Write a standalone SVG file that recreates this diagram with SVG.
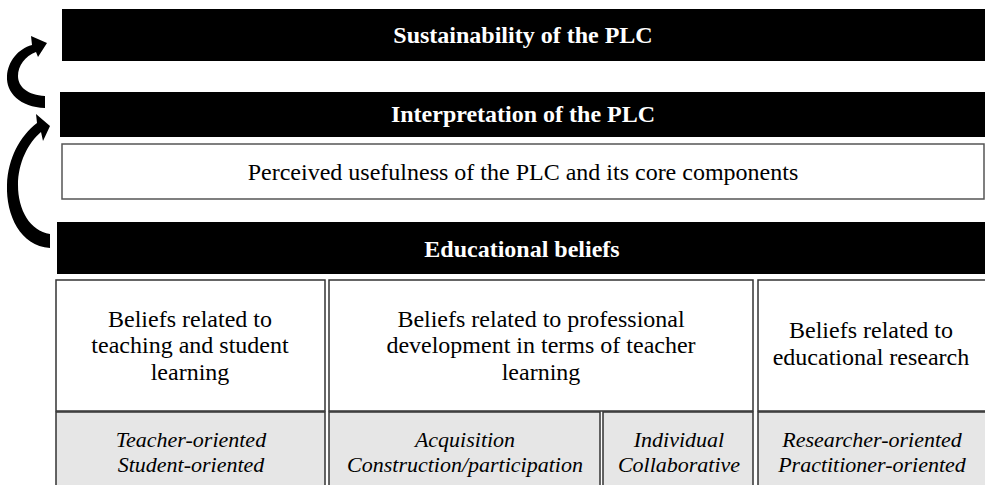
<svg xmlns="http://www.w3.org/2000/svg" width="985" height="485" viewBox="0 0 985 485">
  <style>
    .bar { fill: #000; }
    .bar-label { font-family: 'Liberation Serif', 'DejaVu Serif', serif; font-weight: bold; font-size: 24px; fill: #fff; text-anchor: middle; }
    .box { fill: #fff; stroke: #555; stroke-width: 1.5; }
    .cell { fill: #fff; stroke: #333; stroke-width: 1.5; }
    .sub { fill: #e6e6e6; stroke: #333; stroke-width: 1.5; }
    .txt { font-family: 'Liberation Serif', 'DejaVu Serif', serif; font-size: 24px; fill: #000; text-anchor: middle; }
    .itx { font-family: 'Liberation Serif', 'DejaVu Serif', serif; font-size: 22px; font-style: italic; fill: #000; text-anchor: middle; }
    .arrow { fill: #000; }
  </style>

  <g id="sustainability">
    <rect class="bar" x="62" y="9" width="923" height="52"/>
    <text class="bar-label" x="523" y="43">Sustainability of the PLC</text>
  </g>

  <g id="interpretation">
    <rect class="bar" x="60" y="92" width="925" height="45"/>
    <text class="bar-label" x="523" y="122">Interpretation of the PLC</text>
  </g>

  <g id="usefulness">
    <rect class="box" x="62" y="144" width="922" height="55"/>
    <text class="txt" x="523" y="180">Perceived usefulness of the PLC and its core components</text>
  </g>

  <g id="educational-beliefs">
    <rect class="bar" x="57" y="222" width="928" height="52"/>
    <text class="bar-label" x="522" y="257">Educational beliefs</text>
  </g>

  <g id="beliefs-teaching">
    <rect class="cell" x="56" y="280" width="269" height="131"/>
    <text class="txt" x="190" y="327">Beliefs related to</text>
    <text class="txt" x="190" y="353">teaching and student</text>
    <text class="txt" x="190" y="380">learning</text>
  </g>

  <g id="beliefs-pd">
    <rect class="cell" x="329" y="280" width="424" height="131"/>
    <text class="txt" x="541" y="327">Beliefs related to professional</text>
    <text class="txt" x="541" y="353">development in terms of teacher</text>
    <text class="txt" x="541" y="380">learning</text>
  </g>

  <g id="beliefs-research">
    <rect class="cell" x="758" y="280" width="230" height="131"/>
    <text class="txt" x="871" y="338">Beliefs related to</text>
    <text class="txt" x="871" y="365">educational research</text>
  </g>

  <g id="teacher-student">
    <rect class="sub" x="56" y="412" width="269" height="80"/>
    <text class="itx" x="191" y="447">Teacher-oriented</text>
    <text class="itx" x="191" y="472">Student-oriented</text>
  </g>

  <g id="acquisition-construction">
    <rect class="sub" x="329" y="412" width="271" height="80"/>
    <text class="itx" x="465" y="447">Acquisition</text>
    <text class="itx" x="465" y="472">Construction/participation</text>
  </g>

  <g id="individual-collaborative">
    <rect class="sub" x="603" y="412" width="150" height="80"/>
    <text class="itx" x="679" y="447">Individual</text>
    <text class="itx" x="679" y="472">Collaborative</text>
  </g>

  <g id="researcher-practitioner">
    <rect class="sub" x="758" y="412" width="230" height="80"/>
    <text class="itx" x="872" y="447">Researcher-oriented</text>
    <text class="itx" x="872" y="472">Practitioner-oriented</text>
  </g>

  <g id="connectors">
    <!-- interpretation feeds back into sustainability -->
    <path class="arrow" d="M45,108 C20,107 6,93 7,76 C8,61 18,49 32,45 L31,36 L47,43 L38,57 L36,52 C25,56 18,66 18,76 C18,87 28,95 45,96 Z"/>
    <!-- educational beliefs shape interpretation -->
    <path class="arrow" d="M50,248 C20,246 6,215 7,185 C8,158 20,136 37,123 L36,114 L50,126 L43,141 L41,132 C28,143 18,163 18,185 C18,210 30,231 50,234 Z"/>
  </g>
</svg>
